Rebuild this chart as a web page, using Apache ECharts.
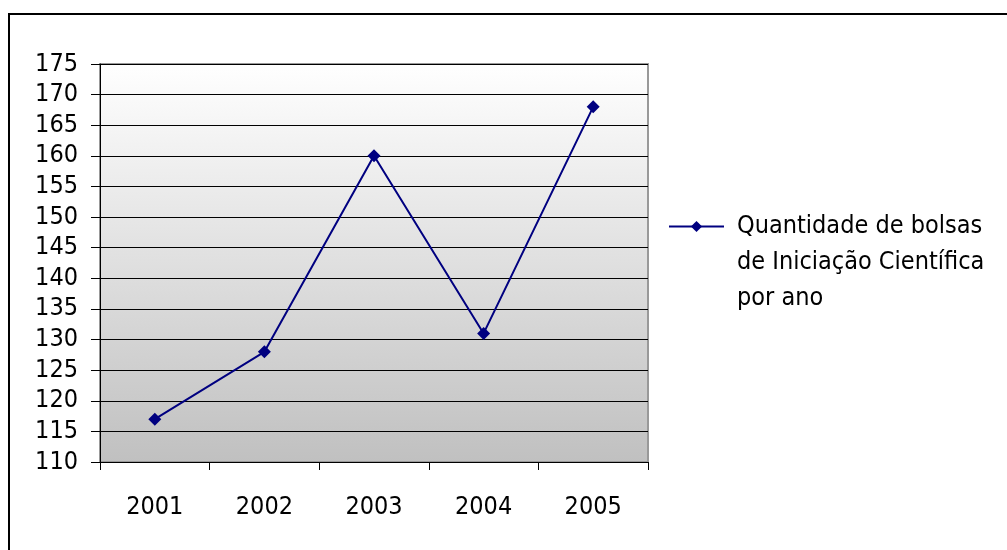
<!DOCTYPE html>
<html><head><meta charset="utf-8">
<script src="https://cdn.jsdelivr.net/npm/echarts@6/dist/echarts.min.js"></script>
<style>html,body{margin:0;padding:0;background:#fff}#c{width:1007px;height:550px}</style>
</head><body><div id="c"></div>
<script>
const categories = ['2001', '2002', '2003', '2004', '2005'];
const values = [117, 128, 160, 131, 168];
const seriesName = 'Quantidade de bolsas de Iniciação Científica por ano';
const legendLines = ['Quantidade de bolsas', 'de Iniciação Científica', 'por ano'];
const yMin = 110, yMax = 175, yStep = 5;

const chart = echarts.init(document.getElementById('c'));
const font = 'DejaVu Sans Condensed';
chart.setOption({
  animation: false,
  backgroundColor: '#fff',
  graphic: [{
    type: 'rect', silent: true, z: 100,
    shape: { x: 9, y: 14, width: 1010, height: 560 },
    style: { fill: 'none', stroke: '#000', lineWidth: 2 }
  }],
  grid: {
    left: 100, top: 64, width: 548, height: 398,
    show: true, borderColor: '#999', borderWidth: 2,
    backgroundColor: new echarts.graphic.LinearGradient(0, 0, 0, 1, [
      { offset: 0, color: '#ffffff' }, { offset: 1, color: '#c0c0c0' }
    ])
  },
  legend: {
    left: 668, top: 142, padding: 0,
    itemWidth: 55, itemHeight: 14, itemGap: 0,
    data: [{ name: seriesName }],
    formatter: () => '{t| }\n{t| }\n' + legendLines.map(l => '{t|' + l + '}').join('\n'),
    textStyle: {
      fontFamily: font, fontSize: 25, color: '#000',
      rich: { t: { fontFamily: font, fontSize: 25, color: '#000', lineHeight: 36, padding: [0, 0, 0, 8] } }
    }
  },
  xAxis: {
    type: 'category', data: categories, boundaryGap: true,
    axisLine: { lineStyle: { color: '#000', width: 1 } },
    axisTick: { show: true, length: 8, lineStyle: { color: '#000' } },
    axisLabel: { fontFamily: font, fontSize: 25, color: '#000', margin: 33 },
    splitLine: { show: false }
  },
  yAxis: {
    type: 'value', min: yMin, max: yMax, interval: yStep,
    axisLine: { show: true, lineStyle: { color: '#000', width: 1 } },
    axisTick: { show: true, length: 9, lineStyle: { color: '#000' } },
    axisLabel: { fontFamily: font, fontSize: 25, color: '#000', margin: 22 },
    splitLine: { show: true, lineStyle: { color: '#000', width: 1 } }
  },
  series: [{
    name: seriesName, type: 'line', data: values,
    symbol: 'diamond', symbolSize: 13,
    lineStyle: { color: '#000080', width: 2 },
    itemStyle: { color: '#000080' }
  }]
});
</script></body></html>
